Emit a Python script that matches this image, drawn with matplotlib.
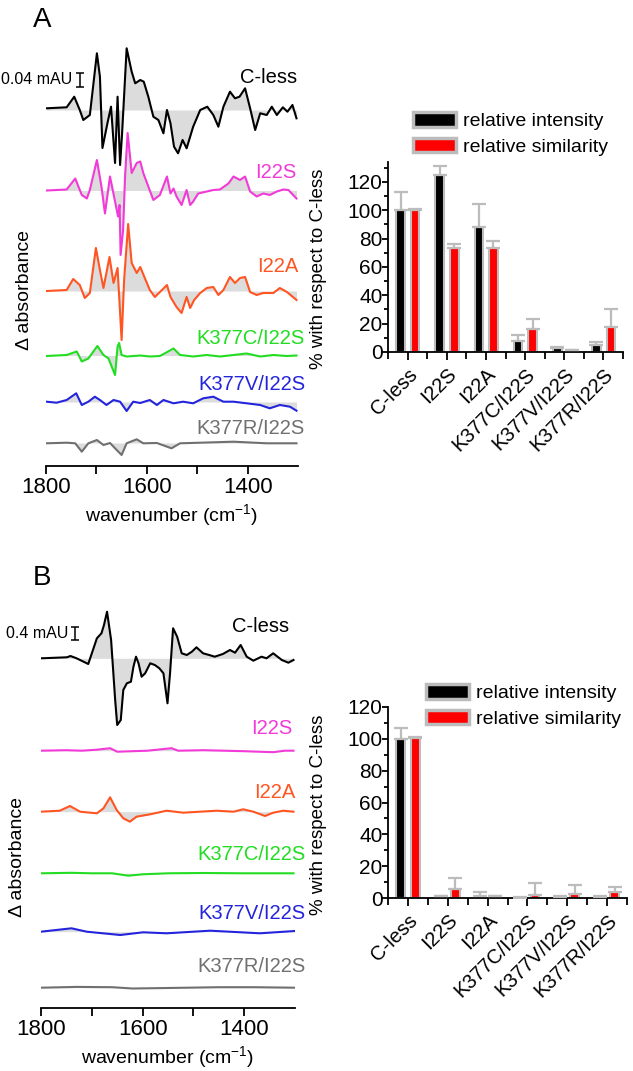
import numpy as np
import matplotlib
matplotlib.use('Agg')
import matplotlib.pyplot as plt
from matplotlib.patches import Patch
from matplotlib.ticker import MultipleLocator, FixedLocator

plt.rcParams['font.family'] = ['Liberation Sans', 'DejaVu Sans']
plt.rcParams['mathtext.fontset'] = 'custom'
plt.rcParams['mathtext.rm'] = 'Liberation Sans'
plt.rcParams['mathtext.default'] = 'regular'

# =========================
# DATA
# =========================
MUTANTS = ['C-less', 'I22S', 'I22A', 'K377C/I22S', 'K377V/I22S', 'K377R/I22S']
TRACE_COLORS = ['#000000', '#f23ad8', '#ff5522', '#22dd22', '#2424dd', '#707070']

# spectra: (wavenumber cm-1, delta absorbance in arbitrary plot units)
# panel A, scale bar = 14 units = 0.04 mAU
A_CLESS = [(1799, 1.7), (1759, 2.7), (1744, 13.3), (1733, 0), (1726, -10), (1713, -5),
           (1699, 56.7), (1693, 33.3), (1688, -38), (1678, -13), (1671, 3.3), (1663, -53),
           (1658, 13.3), (1653, -55), (1649, -23), (1640, 61.7), (1630, 38.3), (1623, 26.7),
           (1613, 30), (1606, 28.3), (1597, 13.3), (1587, -6.7), (1577, -10), (1567, -23.3),
           (1560, 0), (1553, -13.3), (1546, -36.7), (1538, -43.3), (1529, -30), (1521, -38.3),
           (1508, -16.7), (1494, 0), (1480, 3.3), (1468, -5), (1458, -16.7), (1448, 3.3),
           (1435, 18.3), (1425, 11.7), (1416, 13.3), (1405, 21.7), (1395, 1.7), (1385, -20),
           (1375, -3.3), (1362, -5), (1352, 3.3), (1342, -5), (1330, 2.7), (1321, -1.7),
           (1311, 5), (1303, -8.3)]
A_I22S = [(1799, 0), (1759, 1), (1742, 12), (1729, -4.5), (1719, -8), (1713, 0.5),
          (1699, 30.5), (1690, 4), (1683, -23), (1673, 14), (1665, -6), (1657, -26),
          (1654, -14.5), (1652, -64.5), (1647, -39.5), (1643, 15.5), (1638, 57.5), (1630, 17.5),
          (1620, 27.5), (1613, 29), (1607, 17.5), (1597, 4), (1587, -9.5), (1574, -4.5),
          (1560, 14), (1553, -3), (1547, 2), (1541, -6), (1531, -14.5), (1521, 0.5),
          (1514, -14.5), (1508, -11), (1498, -3), (1481, -1), (1468, 0.5), (1455, 1),
          (1438, 7), (1428, 14), (1415, 10.5), (1405, 14), (1395, -1), (1382, -6),
          (1369, -3), (1356, -4.5), (1342, -1), (1329, 1), (1319, 0.5), (1303, -8)]
A_I22A = [(1799, 0), (1759, 1), (1746, 12), (1733, 6), (1723, -7), (1713, -2),
          (1701, 43), (1693, 21), (1686, 3), (1674, 34), (1666, 8), (1658, 23),
          (1653, -22), (1650, -49), (1645, 11), (1637, 67), (1630, 28), (1620, 18),
          (1613, 24), (1604, 13), (1594, 1), (1584, -6), (1574, -1), (1560, 6),
          (1553, -6), (1541, -16), (1531, -22), (1521, -6), (1514, -17), (1506, -9),
          (1494, -2), (1481, 3), (1468, 4), (1458, -4), (1448, 1), (1435, 14),
          (1425, 8), (1415, 13), (1405, 14), (1395, -1), (1382, -4), (1369, -2),
          (1349, -2), (1336, 3), (1322, -1), (1303, -9)]
A_K377C = [(1799, -0.5), (1759, 0.5), (1739, 4), (1729, -6), (1716, -3), (1698, 9.5),
           (1686, 0.5), (1676, -3), (1663, -19.5), (1658, 9), (1655, 12.5), (1650, 0.5),
           (1640, -1), (1613, 0), (1594, -1), (1574, -0.5), (1547, 7), (1534, 0.5),
           (1508, -1), (1481, 0.5), (1455, -1), (1428, 0.5), (1402, 2), (1375, -1),
           (1349, 0.5), (1322, -0.5), (1303, 0)]
A_K377V = [(1799, 0.3), (1779, -0.7), (1759, 2), (1740, 8.7), (1729, -3), (1716, 0.3),
           (1703, 5.3), (1693, 2), (1680, -3), (1666, 2), (1653, 0.3), (1640, -9),
           (1627, 0.3), (1613, -1), (1594, 2), (1580, -3), (1567, 2), (1547, -1.3),
           (1528, 0.3), (1508, -1.3), (1488, 3.7), (1468, 5.3), (1448, 0.3), (1428, 0.3),
           (1402, -1.3), (1375, -3), (1356, -6.3), (1336, -3), (1316, -4.7), (1303, -8.7)]
A_K377R = [(1799, -0.3), (1759, 0.3), (1742, -0.3), (1729, -8.7), (1716, -0.3), (1699, 3),
           (1686, -2), (1673, 0), (1663, -5.3), (1650, -12), (1640, -0.3), (1620, 3.7),
           (1607, -0.3), (1580, 0), (1551, -5.3), (1534, -0.3), (1494, 0.3), (1428, 1.3),
           (1362, -0.3), (1303, -0.3)]

# panel B, scale bar = 13 units = 0.4 mAU
B_CLESS = [(1799, 0), (1749, 1), (1742, 2.3), (1730, 0), (1707, -5.7), (1690, 20),
           (1681, 25), (1676, 33.3), (1670, 46.6), (1662, 18.3), (1654, -41.7), (1650, -66.7),
           (1643, -61.7), (1638, -31.7), (1631, -25), (1623, -23.4), (1618, -8.4), (1613, 1.6),
           (1608, -5), (1602, -18.4), (1595, -15), (1585, -5), (1576, -6.7), (1567, -10),
           (1559, -15), (1551, -45), (1546, -15), (1540, 30), (1532, 21.6), (1523, 5),
           (1513, 3.3), (1503, 6.6), (1494, 11), (1481, 5), (1469, 3.3), (1458, 1.6),
           (1442, 4.3), (1428, 8.3), (1418, 5.6), (1407, 13.3), (1395, 1.6), (1382, -2.4),
           (1366, 1.6), (1356, 0), (1343, 5), (1326, -1.7), (1313, -4.4), (1303, -1.7)]
B_I22S = [(1799, 0), (1750, 0.5), (1720, 0), (1690, 1), (1664, 2.5), (1650, -1),
          (1620, -0.5), (1590, 0), (1543, 2.5), (1530, 0), (1480, 0.5), (1440, 0),
          (1400, -0.5), (1343, -1.5), (1320, 0), (1303, 0)]
B_I22A = [(1800, 0), (1763, 1), (1743, 5.7), (1723, 0), (1690, -1.6), (1677, 3.4),
          (1664, 14.4), (1651, 1.7), (1638, -6.6), (1625, -10), (1612, -5), (1585, -2.6),
          (1553, 1), (1520, -1), (1487, 0), (1454, 1), (1421, 0), (1402, 2.4),
          (1382, 0), (1359, -4.3), (1343, -1), (1323, 1), (1303, 0)]
B_K377C = [(1800, 0), (1740, 0.5), (1700, 0), (1660, 0), (1628, -2.4), (1600, -1),
           (1550, 0), (1480, 0.3), (1400, 0), (1303, 0)]
B_K377V = [(1800, 0), (1740, 3.4), (1710, 0), (1644, -3.3), (1599, -0.6), (1553, -1.6),
           (1467, 1), (1369, -1.6), (1300, 0.7)]
B_K377R = [(1800, 0), (1730, 0.8), (1660, 0.5), (1620, -0.8), (1550, -0.3), (1450, 0.5),
           (1380, 0.5), (1300, 0)]

# bar charts (% with respect to C-less)
A_INTENSITY = [100, 125, 88.5, 8, 2.5, 5]
A_INTENSITY_SD = [13, 6, 16, 4, 1, 2]
A_SIMILARITY = [100, 73, 73.5, 16, 1.5, 17.5]
A_SIMILARITY_SD = [0.5, 3, 4.5, 7, 0, 13]

B_INTENSITY = [100, 1, 1, 0.3, 0.5, 0.8]
B_INTENSITY_SD = [7, 0.5, 3, 0.5, 0.5, 0.5]
B_SIMILARITY = [100.5, 5.5, 1, 2, 2.5, 3.5]
B_SIMILARITY_SD = [0.5, 7, 0.5, 7.5, 5.5, 3.5]

# =========================
# LAYOUT (pixels of a 633x1071 canvas)
# =========================
W, H = 633, 1071
FILL = '#dcdcdc'
EDGE = '#bcbcbc'


def fig_rect(left, top, right, bottom):
    return [left / W, 1 - bottom / H, (right - left) / W, (bottom - top) / H]


def draw_spectra(ax, traces, baselines, label_pos, ylim, scale, scale_text):
    for tr, base, col, name, (lx, ly) in zip(traces, baselines, TRACE_COLORS,
                                             MUTANTS, label_pos):
        wn = np.array([p[0] for p in tr], dtype=float)
        da = np.array([p[1] for p in tr], dtype=float)
        ax.fill_between(wn, base, base + da, color=FILL, lw=0, zorder=1)
        ax.plot(wn, base + da, color=col, lw=1.5, zorder=2)
        ax.text(lx, ly, name, color=col, fontsize=14.5, ha='right', va='center')

    # scale bar
    sx, sy, slen = scale
    ax.errorbar(sx, sy, yerr=slen / 2, color='black', lw=1.1, capsize=3, capthick=1.1)
    ax.text(sx + 14, sy, scale_text, fontsize=11.5, ha='right', va='center')

    ax.set_xlim(1800, 1300)
    ax.set_ylim(*ylim)
    for s in ['left', 'top', 'right']:
        ax.spines[s].set_visible(False)
    ax.spines['bottom'].set_linewidth(1.3)
    ax.set_yticks([])
    ax.xaxis.set_major_locator(FixedLocator([1800, 1600, 1400]))
    ax.xaxis.set_minor_locator(FixedLocator([1700, 1500]))
    ax.tick_params(axis='x', which='both', direction='out', length=6, width=1.3,
                   labelsize=16, pad=2)
    ax.set_xlabel('wavenumber (cm$^{-1}$)', fontsize=14, labelpad=3)


def draw_bars(ax, inten, inten_sd, simil, simil_sd, ymax, legend_xy):
    x = np.arange(len(MUTANTS))
    n = len(MUTANTS)
    ax.bar(x - 0.18, inten, 0.22, color='black', edgecolor=EDGE, lw=1.5, zorder=2)
    ax.bar(x + 0.19, simil, 0.22, color='red', edgecolor=EDGE, lw=1.5, zorder=2)
    ax.errorbar(x - 0.18, inten, yerr=[np.zeros(n), inten_sd], fmt='none',
                ecolor=EDGE, elinewidth=1.6, capsize=5, capthick=1.6, zorder=3)
    ax.errorbar(x + 0.19, simil, yerr=[np.zeros(n), simil_sd], fmt='none',
                ecolor=EDGE, elinewidth=1.6, capsize=5, capthick=1.6, zorder=3)

    ax.set_xlim(-0.5, n - 0.5)
    ax.set_ylim(0, ymax)
    ax.set_xticks(x)
    ax.set_xticklabels(MUTANTS, rotation=45, ha='right', rotation_mode='anchor')
    ax.xaxis.set_minor_locator(FixedLocator(np.arange(n + 1) - 0.5))
    ax.yaxis.set_major_locator(MultipleLocator(20))
    ax.yaxis.set_minor_locator(MultipleLocator(10))
    ax.tick_params(axis='both', which='both', direction='out', width=1.3)
    ax.tick_params(axis='x', which='major', length=6, pad=3, labelsize=14.5)
    ax.tick_params(axis='x', which='minor', length=5)
    ax.tick_params(axis='y', which='major', length=4, pad=0, labelsize=15)
    ax.tick_params(axis='y', which='minor', length=3)
    for s in ['top', 'right']:
        ax.spines[s].set_visible(False)
    for s in ['left', 'bottom']:
        ax.spines[s].set_linewidth(1.3)
    ax.set_ylabel('% with respect to C-less', fontsize=13.5)

    handles = [Patch(facecolor='black', edgecolor=EDGE, lw=2.5, label='relative intensity'),
               Patch(facecolor='red', edgecolor=EDGE, lw=2.5, label='relative similarity')]
    ax.legend(handles=handles, loc='upper left',
              bbox_to_anchor=(legend_xy[0] / W, 1 - legend_xy[1] / H),
              bbox_transform=ax.figure.transFigure, frameon=False, fontsize=14,
              handlelength=2.2, handleheight=0.8, handletextpad=0.35,
              labelspacing=0.38, borderpad=0, borderaxespad=0)


fig = plt.figure(figsize=(W / 100, H / 100), dpi=100)

# ---- panel A ----
axA = fig.add_axes(fig_rect(46, 40, 298, 466))
draw_spectra(axA, [A_CLESS, A_I22S, A_I22A, A_K377C, A_K377V, A_K377R],
             [356, 275.5, 175, 110.5, 64, 23],
             [(1302, 388.5), (1304, 294), (1300, 199), (1286, 128), (1286, 81), (1286, 37)],
             (0, 426), (1733, 386, 14), '0.04 mAU')

axAb = fig.add_axes(fig_rect(388, 162, 623, 352))
draw_bars(axAb, A_INTENSITY, A_INTENSITY_SD, A_SIMILARITY, A_SIMILARITY_SD, 134, (413, 112))
axAb.yaxis.set_label_coords(-0.26, 0.44)

# ---- panel B ----
axB = fig.add_axes(fig_rect(41, 600, 295, 1008))
draw_spectra(axB, [B_CLESS, B_I22S, B_I22A, B_K377C, B_K377V, B_K377R],
             [349.7, 257.3, 196.3, 134.7, 76.3, 20.3],
             [(1312, 382), (1306, 279), (1300, 216), (1280, 153), (1280, 94.5), (1280, 41)],
             (0, 408), (1733, 374.5, 13), '0.4 mAU')

axBb = fig.add_axes(fig_rect(388, 707, 627, 898))
draw_bars(axBb, B_INTENSITY, B_INTENSITY_SD, B_SIMILARITY, B_SIMILARITY_SD, 120, (426, 684))
axBb.yaxis.set_label_coords(-0.255, 0.435)

fig.text(25 / W, 1 - 290 / H, '\u0394 absorbance', rotation=90, fontsize=14,
         ha='center', va='center')
fig.text(18 / W, 1 - 857 / H, '\u0394 absorbance', rotation=90, fontsize=14,
         ha='center', va='center')

fig.text(33 / W, 1 - 27 / H, 'A', fontsize=20, va='baseline')
fig.text(33 / W, 1 - 585 / H, 'B', fontsize=20, va='baseline')

fig.savefig('out.png', dpi=100)
